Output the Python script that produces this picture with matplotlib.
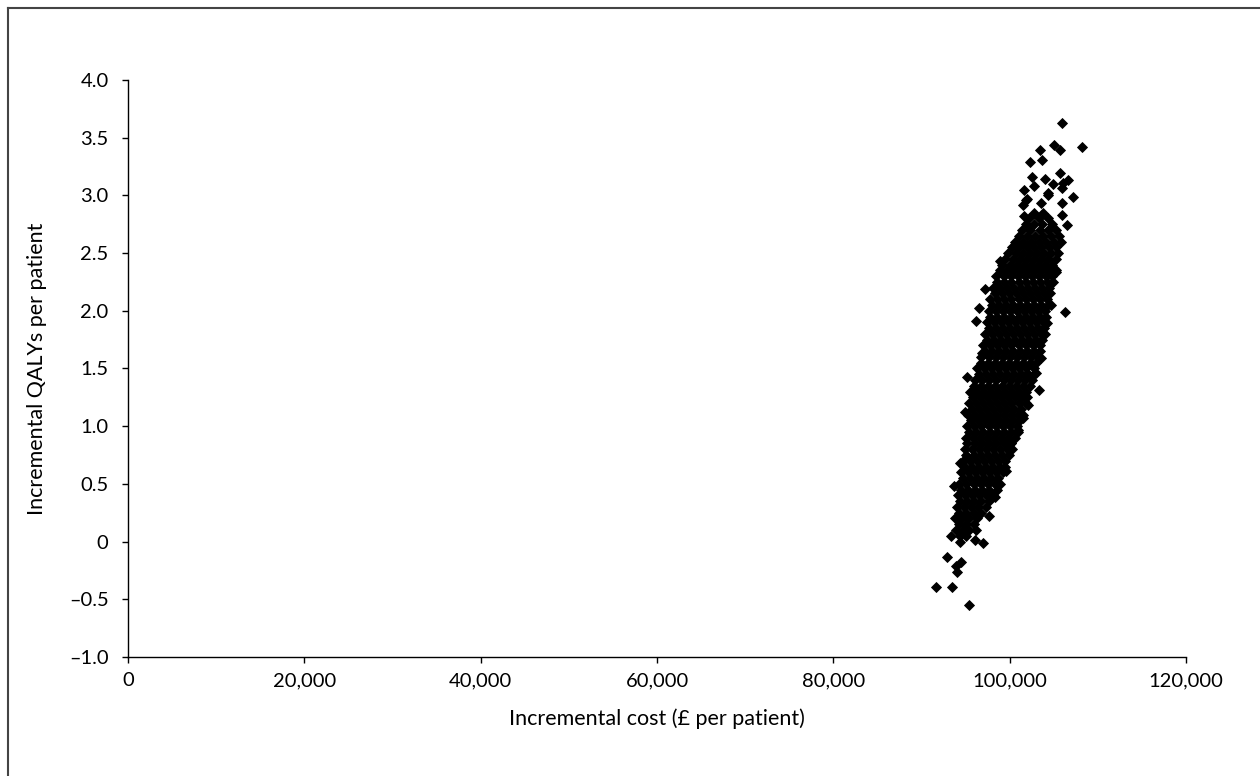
import matplotlib.pyplot as plt
from matplotlib.lines import Line2D
from matplotlib.ticker import FuncFormatter

plt.rcParams['font.family'] = ['Lato', 'DejaVu Sans']

# dense core of the cloud, one row per QALY level (cost in £ thousands)
row_qaly = [0.05, 0.10, 0.15, 0.20, 0.25, 0.30, 0.35, 0.40, 0.45, 0.50,
            0.55, 0.60, 0.65, 0.70, 0.75, 0.80, 0.85, 0.90, 0.95, 1.00,
            1.05, 1.10, 1.15, 1.20, 1.25, 1.30, 1.35, 1.40, 1.45, 1.50,
            1.55, 1.60, 1.65, 1.70, 1.75, 1.80, 1.85, 1.90, 1.95, 2.00,
            2.05, 2.10, 2.15, 2.20, 2.25, 2.30, 2.35, 2.40, 2.45, 2.50,
            2.55, 2.60, 2.65, 2.70, 2.75, 2.80, 2.85]
row_cost_k = [
    [94.4, 95.1],
    [93.9, 94.7, 95.4, 96.2],
    [94.2, 95.0, 95.9],
    [93.8, 94.6, 95.4, 96.3],
    [94.3, 95.1, 95.9, 96.8],
    [94.0, 94.8, 95.6, 96.4, 97.3],
    [94.4, 95.2, 96.0, 96.8, 97.7],
    [94.1, 94.9, 95.7, 96.5, 97.3, 98.1],
    [94.5, 95.3, 96.1, 96.9, 97.7, 98.6],
    [94.3, 95.1, 95.9, 96.7, 97.5, 98.3, 98.9],
    [94.7, 95.5, 96.3, 97.1, 97.9, 98.7],
    [94.5, 95.3, 96.1, 96.9, 97.7, 98.5, 99.2],
    [94.9, 95.7, 96.5, 97.3, 98.1, 98.9, 99.5],
    [94.7, 95.5, 96.3, 97.1, 97.9, 98.7, 99.5],
    [95.1, 95.9, 96.7, 97.5, 98.3, 99.1, 99.9],
    [94.9, 95.7, 96.5, 97.3, 98.1, 98.9, 99.7, 100.3],
    [95.2, 96.1, 96.9, 97.7, 98.5, 99.3, 100.1],
    [95.0, 95.8, 96.6, 97.4, 98.2, 99.0, 99.8, 100.6],
    [95.4, 96.2, 97.0, 97.8, 98.6, 99.4, 100.2, 100.9],
    [95.2, 96.0, 96.8, 97.6, 98.4, 99.2, 100.0, 100.8],
    [95.6, 96.4, 97.2, 98.0, 98.8, 99.6, 100.4, 101.2],
    [95.3, 96.1, 96.9, 97.7, 98.5, 99.3, 100.1, 100.9, 101.5],
    [95.7, 96.5, 97.3, 98.1, 98.9, 99.7, 100.5, 101.3],
    [95.4, 96.2, 97.0, 97.8, 98.6, 99.4, 100.2, 101.0, 101.8],
    [95.8, 96.6, 97.4, 98.2, 99.0, 99.8, 100.6, 101.4, 102.0],
    [95.5, 96.3, 97.1, 97.9, 98.7, 99.5, 100.3, 101.1, 101.9],
    [95.9, 96.7, 97.5, 98.3, 99.1, 99.9, 100.7, 101.5, 102.3],
    [96.1, 96.9, 97.7, 98.5, 99.3, 100.1, 100.9, 101.7, 102.5],
    [96.5, 97.3, 98.1, 98.9, 99.7, 100.5, 101.3, 102.1, 102.8],
    [96.3, 97.1, 97.9, 98.7, 99.5, 100.3, 101.1, 101.9, 102.7],
    [96.7, 97.5, 98.3, 99.1, 99.9, 100.7, 101.5, 102.3, 103.0],
    [96.8, 97.6, 98.4, 99.2, 100.0, 100.8, 101.6, 102.4, 103.2],
    [97.2, 98.0, 98.8, 99.6, 100.4, 101.2, 102.0, 102.8, 103.4],
    [97.0, 97.8, 98.6, 99.4, 100.2, 101.0, 101.8, 102.6, 103.4],
    [97.4, 98.2, 99.0, 99.8, 100.6, 101.4, 102.2, 103.0, 103.7],
    [97.2, 98.0, 98.8, 99.6, 100.4, 101.2, 102.0, 102.8, 103.6, 104.0],
    [97.6, 98.4, 99.2, 100.0, 100.8, 101.6, 102.4, 103.2, 103.9],
    [97.4, 98.2, 99.0, 99.8, 100.6, 101.4, 102.2, 103.0, 103.8],
    [97.8, 98.6, 99.4, 100.2, 101.0, 101.8, 102.6, 103.4, 104.1],
    [97.6, 98.4, 99.2, 100.0, 100.8, 101.6, 102.4, 103.2, 104.0],
    [98.0, 98.8, 99.6, 100.4, 101.2, 102.0, 102.8, 103.6, 104.3],
    [97.8, 98.6, 99.4, 100.2, 101.0, 101.8, 102.6, 103.4, 104.2],
    [98.3, 99.1, 99.9, 100.7, 101.5, 102.3, 103.1, 103.9, 104.6],
    [98.1, 98.9, 99.7, 100.5, 101.3, 102.1, 102.9, 103.7, 104.5],
    [98.6, 99.4, 100.2, 101.0, 101.8, 102.6, 103.4, 104.2, 104.9],
    [98.4, 99.3, 100.1, 100.9, 101.7, 102.5, 103.3, 104.1, 104.8],
    [98.9, 99.7, 100.5, 101.3, 102.1, 102.9, 103.7, 104.5, 105.2],
    [99.1, 100.0, 100.8, 101.6, 102.4, 103.2, 104.0, 104.8],
    [99.5, 100.4, 101.2, 102.0, 102.8, 103.6, 104.4, 105.3],
    [99.8, 100.7, 101.5, 102.3, 103.1, 103.9, 104.7, 105.5],
    [100.3, 101.1, 102.0, 102.8, 103.6, 104.5, 105.3],
    [100.6, 101.5, 102.4, 103.3, 104.1, 105.0, 105.8],
    [101.0, 102.0, 102.9, 103.8, 104.7, 105.6],
    [101.4, 102.3, 103.4, 104.3, 105.2],
    [101.9, 102.8, 103.7, 104.8],
    [102.2, 103.3, 104.3],
    [102.7, 103.8],
]

# scattered points around the core
outlier_cost_k = [105.9, 108.2, 105.0, 105.7, 103.4, 102.3, 103.7, 102.5, 104.0, 105.7,
                  106.6, 106.1, 104.9, 101.6, 105.9, 104.4, 107.2, 102.0, 101.5, 103.6,
                  105.9, 101.6, 106.5, 105.9, 97.2, 106.3, 105.3, 104.2, 103.6, 103.0,
                  96.9, 95.7, 101.5, 94.4, 93.7, 100.2, 98.3, 95.4, 91.6, 93.5,
                  92.9, 93.9, 94.5, 94.0, 93.3, 97.0, 96.1, 94.4, 97.6, 98.9,
                  101.9, 104.4, 102.8, 95.2, 94.9, 96.2, 102.9, 103.3, 102.1,
                  100.9, 99.6, 101.8, 104.7, 96.5]
outlier_qaly = [3.63, 3.42, 3.44, 3.39, 3.39, 3.29, 3.31, 3.16, 3.14, 3.19,
                3.13, 3.11, 3.10, 3.05, 3.06, 3.00, 2.99, 2.97, 2.92, 2.93,
                2.93, 2.82, 2.74, 2.83, 2.19, 1.99, 2.34, 1.89, 1.59, 1.46,
                1.63, 1.30, 1.07, 0.68, 0.48, 0.85, 0.39, -0.55, -0.39, -0.39,
                -0.13, -0.21, -0.18, -0.26, 0.05, -0.01, 0.01, 0.00, 0.22, 2.43,
                2.96, 3.02, 3.08, 1.43, 1.12, 1.91, 1.72, 1.31, 1.18,
                0.97, 0.61, 1.44, 2.05, 2.02]

x_ticks = [0, 20000, 40000, 60000, 80000, 100000, 120000]
y_ticks = [-1.0, -0.5, 0, 0.5, 1.0, 1.5, 2.0, 2.5, 3.0, 3.5, 4.0]

cost = []
qaly = []
for q, row in zip(row_qaly, row_cost_k):
    for c in row:
        cost.append(c * 1000)
        qaly.append(q)
for c, q in zip(outlier_cost_k, outlier_qaly):
    cost.append(c * 1000)
    qaly.append(q)

fig = plt.figure(figsize=(12.6, 7.76), dpi=100)
ax = fig.add_axes([0.1016, 0.1534, 0.8397, 0.7435])

ax.plot(cost, qaly, linestyle="none", marker="D", markersize=5.4,
        color="black", markeredgewidth=0.6)

ax.set_xlim(0, 120000)
ax.set_ylim(-1.0, 4.0)
ax.set_xticks(x_ticks)
ax.set_yticks(y_ticks)


def fmt_y(v, pos):
    if abs(v) < 1e-9:
        return "0"
    s = f"{abs(v):.1f}"
    return ("\u2013" + s) if v < 0 else s


ax.xaxis.set_major_formatter(FuncFormatter(lambda v, p: f"{int(v):,}"))
ax.yaxis.set_major_formatter(FuncFormatter(fmt_y))

for side in ["top", "right"]:
    ax.spines[side].set_visible(False)
for side in ["left", "bottom"]:
    ax.spines[side].set_linewidth(1.0)
ax.tick_params(direction="out", length=4, width=1.0, labelsize=14.5)
ax.tick_params(axis="x", pad=7)
ax.tick_params(axis="y", pad=10)

ax.set_xlabel("Incremental cost (\u00a3 per patient)", fontsize=15.5, labelpad=14)
ax.set_ylabel("Incremental QALYs per patient", fontsize=15.5, labelpad=16)

# partial frame round the figure (top and left edges)
fig.add_artist(Line2D([0.0064, 1.0], [0.9897, 0.9897], color="#444444", linewidth=1.5))
fig.add_artist(Line2D([0.0064, 0.0064], [0.0, 0.9897], color="#444444", linewidth=1.5))

fig.savefig("out.png", dpi=100)
